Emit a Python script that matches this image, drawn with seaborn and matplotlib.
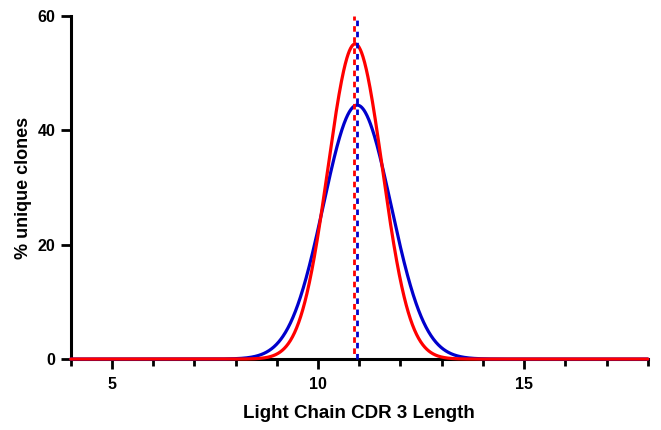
import numpy as np
import pandas as pd
import seaborn as sns
import matplotlib.pyplot as plt
from matplotlib.ticker import MultipleLocator

# Gaussian fit parameters (amplitude, mean, SD)
series = ["blue", "red"]
amplitude = [44.4, 55.1]
mean = [10.95, 10.90]
sd = [0.82, 0.66]
colors = {"blue": "#0000CC", "red": "#FF0000"}

x_ticks = [5, 10, 15]
y_ticks = [0, 20, 40, 60]

sns.set_style("white")
plt.rcParams["font.family"] = ["Liberation Sans", "DejaVu Sans"]
plt.rcParams["font.weight"] = "bold"
plt.rcParams["text.color"] = "black"
plt.rcParams["xtick.color"] = "black"
plt.rcParams["ytick.color"] = "black"
plt.rcParams["axes.labelcolor"] = "black"

xs = np.linspace(4, 18, 1401)
frames = []
for name, a, m, s in zip(series, amplitude, mean, sd):
    frames.append(pd.DataFrame({"x": xs, "y": a * np.exp(-(xs - m) ** 2 / (2 * s ** 2)), "series": name}))
df = pd.concat(frames)

fig = plt.figure(figsize=(6.61, 4.30), dpi=100)
ax = fig.add_axes([0.107, 0.165, 0.873, 0.798])

sns.lineplot(data=df, x="x", y="y", hue="series", palette=colors, linewidth=2.3,
             legend=False, ax=ax, zorder=5, clip_on=False)

# mean markers: overlapping dashed lines, dashes shifted against each other
ax.plot([mean[0] - 0.01] * 2, [0, 60], color=colors["blue"], lw=2,
        linestyle=(0, (2, 2)), zorder=6, clip_on=False)
ax.plot([mean[1] - 0.02] * 2, [0, 60], color=colors["red"], lw=2,
        linestyle=(2, (2, 2)), zorder=6, clip_on=False)

ax.set_xlim(4, 18)
ax.set_ylim(0, 60)
ax.set_xticks(x_ticks)
ax.xaxis.set_minor_locator(MultipleLocator(1))
ax.set_yticks(y_ticks)

for side in ["top", "right"]:
    ax.spines[side].set_visible(False)
for side in ["left", "bottom"]:
    ax.spines[side].set_linewidth(2.2)
    ax.spines[side].set_color("black")

ax.tick_params(axis="both", which="major", direction="out", length=7, width=2,
               labelsize=11.5, pad=4, bottom=True, left=True)
ax.tick_params(axis="x", which="major", pad=6)
ax.tick_params(axis="x", which="minor", direction="out", length=5, width=2, bottom=True)

ax.set_xlabel("Light Chain CDR 3 Length", fontsize=13.5, fontweight="bold", labelpad=9)
ax.set_ylabel("% unique clones", fontsize=13, fontweight="bold", labelpad=4)

fig.savefig("out.png", dpi=100)
